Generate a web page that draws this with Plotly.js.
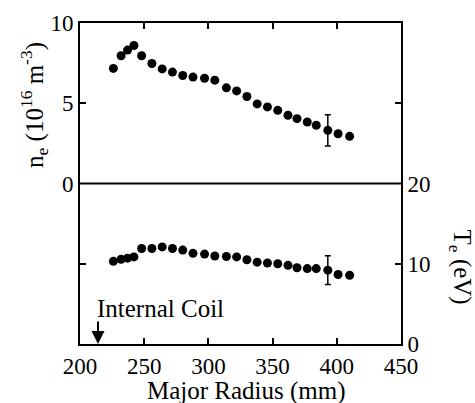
<!DOCTYPE html>
<html>
<head>
<meta charset="utf-8">
<script src="https://cdn.plot.ly/plotly-3.0.1.min.js"></script>
<style>html,body{margin:0;padding:0;background:#fff;}</style>
</head>
<body>
<div id="chart"></div>
<script>
// Major radius (mm)
const radius = [226,232,237,242,248,256,264,272,280,288,297,305,314,322,330,338,346,354,362,369,377,384,393,401,410];
// Electron density n_e (10^16 m^-3)
const density = [7.17,7.96,8.31,8.6,7.96,7.48,7.14,6.94,6.73,6.63,6.56,6.44,5.96,5.77,5.42,4.96,4.77,4.56,4.25,4.04,3.83,3.63,3.31,3.10,2.94];
// Electron temperature T_e (eV)
const temperature = [10.3,10.55,10.7,10.85,11.9,11.9,12.1,11.9,11.7,11.3,11.2,10.97,10.9,10.85,10.5,10.2,10.1,10.0,9.8,9.5,9.4,9.4,9.2,8.66,8.57];
// error bars (only one point carries one)
const densityErr = [null,null,null,null,null,null,null,null,null,null,null,null,null,null,null,null,null,null,null,null,null,null,0.98,null,null];
const temperatureErr = [null,null,null,null,null,null,null,null,null,null,null,null,null,null,null,null,null,null,null,null,null,null,1.8,null,null];
const xTicks = [200,250,300,350,400,450];
const coilRadius = 214;

const serifFamily = 'Liberation Serif';
function mkAxis(extra) {
  return Object.assign({showgrid:false, zeroline:false, showline:true, linecolor:'#000', linewidth:2,
    ticks:'inside', ticklen:6, tickwidth:2, tickcolor:'#000',
    tickfont:{family:serifFamily, size:23, color:'#000'}}, extra);
}

const traces = [
  {x: radius, y: density, xaxis:'x2', yaxis:'y', mode:'markers', type:'scatter',
   marker:{color:'#000', size:9},
   error_y:{type:'data', array:densityErr, visible:true, color:'#000', thickness:1.5, width:3}},
  {x: radius, y: temperature, xaxis:'x', yaxis:'y2', mode:'markers', type:'scatter',
   marker:{color:'#000', size:9},
   error_y:{type:'data', array:temperatureErr, visible:true, color:'#000', thickness:1.5, width:3}}
];

const layout = {
  width:475, height:403, margin:{l:80, r:74, t:23, b:59},
  paper_bgcolor:'#fff', plot_bgcolor:'#fff', showlegend:false,
  font:{family:serifFamily, color:'#000', size:23},
  xaxis: mkAxis({domain:[0,1], range:[200,450], anchor:'y2', tickvals:xTicks}),
  xaxis2: mkAxis({matches:'x', range:[200,450], anchor:'y', side:'top', tickvals:[250,300,350,400], showticklabels:false}),
  yaxis: mkAxis({domain:[0.5,1], range:[0,10], anchor:'x2', tickvals:[0,5,10], mirror:'ticks'}),
  yaxis2: mkAxis({domain:[0,0.5], range:[0,20], anchor:'x', side:'right', tickvals:[0,10,20], mirror:'ticks'}),
  shapes:[{type:'line', xref:'paper', yref:'paper', x0:0, x1:1, y0:0.5, y1:0.5, line:{color:'#000', width:2}}],
  annotations:[
    {text:'n<sub>e</sub> (10<sup>16</sup> m<sup>-3</sup>)', xref:'paper', yref:'paper', x:-0.143, y:0.745,
     textangle:-90, showarrow:false, font:{family:serifFamily, size:25, color:'#000'}, xanchor:'center', yanchor:'middle'},
    {text:'T<sub>e</sub> (eV)', xref:'paper', yref:'paper', x:1.185, y:0.24,
     textangle:90, showarrow:false, font:{family:serifFamily, size:25, color:'#000'}, xanchor:'center', yanchor:'middle'},
    {text:'Major Radius (mm)', xref:'paper', yref:'paper', x:0.52, y:-0.145,
     showarrow:false, font:{family:serifFamily, size:25, color:'#000'}, xanchor:'center', yanchor:'middle'},
    {text:'Internal Coil', xref:'x', yref:'y2', x:211.3, y:4.4, xanchor:'left', yanchor:'middle',
     showarrow:false, font:{family:serifFamily, size:25, color:'#000'}},
    {text:'', xref:'x', yref:'y2', x:coilRadius, y:0, ax:0, ay:-24, showarrow:true,
     arrowhead:2, arrowsize:1.3, arrowwidth:2, arrowcolor:'#000'}
  ]
};

Plotly.newPlot('chart', traces, layout, {staticPlot:true, displayModeBar:false});
</script>
</body>
</html>
